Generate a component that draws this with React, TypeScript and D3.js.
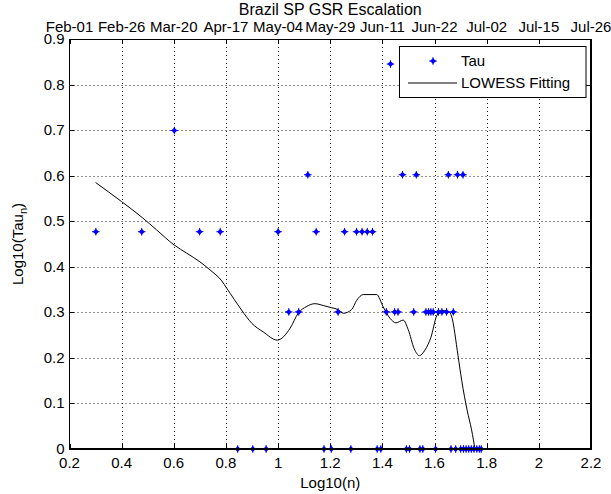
import React from "react";
import * as d3 from "d3";

const W = 611;
const H = 494;

const xTicks = [0.2, 0.4, 0.6, 0.8, 1.0, 1.2, 1.4, 1.6, 1.8, 2.0, 2.2];
const xTickLabels = ["0.2", "0.4", "0.6", "0.8", "1", "1.2", "1.4", "1.6", "1.8", "2", "2.2"];
const topTickLabels = ["Feb-01", "Feb-26", "Mar-20", "Apr-17", "May-04", "May-29", "Jun-11", "Jun-22", "Jul-02", "Jul-15", "Jul-26"];
const yTicks = [0, 0.1, 0.2, 0.3, 0.4, 0.5, 0.6, 0.7, 0.8, 0.9];
const yTickLabels = ["0", "0.1", "0.2", "0.3", "0.4", "0.5", "0.6", "0.7", "0.8", "0.9"];

const tauX = [
  0.301, 0.477, 0.602, 0.699, 0.778, 0.845, 0.903, 0.954, 1.0, 1.041,
  1.079, 1.114, 1.146, 1.176, 1.204, 1.23, 1.255, 1.279, 1.301, 1.322,
  1.342, 1.362, 1.38, 1.394, 1.415, 1.431, 1.447, 1.46, 1.477, 1.492,
  1.504, 1.52, 1.53, 1.544, 1.555, 1.567, 1.577, 1.586, 1.595, 1.604,
  1.615, 1.628, 1.646, 1.653, 1.663, 1.672, 1.681, 1.688, 1.7, 1.709,
  1.711, 1.721, 1.731, 1.741, 1.751, 1.762, 1.772, 1.779,
];
const tauY = [
  0.477, 0.477, 0.699, 0.477, 0.477, 0, 0, 0, 0.477, 0.301,
  0.301, 0.602, 0.477, 0, 0, 0.301, 0.477, 0, 0.477, 0.477,
  0.477, 0.477, 0, 0, 0.301, 0.845, 0.301, 0.301, 0.602, 0,
  0, 0.301, 0.602, 0, 0, 0.301, 0.301, 0.301, 0.301, 0,
  0.301, 0.301, 0.301, 0.602, 0, 0.301, 0, 0.602, 0, 0.602,
  0, 0, 0, 0, 0, 0, 0, 0,
];

const lowessX = [
  0.3, 0.4, 0.479, 0.534, 0.601, 0.649, 0.7, 0.739, 0.784, 0.803,
  0.86, 0.899, 0.943, 0.997, 1.046, 1.077, 1.11, 1.141, 1.173, 1.206,
  1.23, 1.25, 1.282, 1.301, 1.327, 1.378, 1.403, 1.429, 1.452, 1.48,
  1.499, 1.522, 1.542, 1.563, 1.586, 1.608, 1.627, 1.653, 1.666, 1.69,
  1.704, 1.725, 1.742, 1.755,
];
const lowessY = [
  0.585, 0.543, 0.508, 0.481, 0.448, 0.43, 0.411, 0.393, 0.369, 0.353,
  0.305, 0.276, 0.257, 0.239, 0.265, 0.298, 0.313, 0.319, 0.315, 0.31,
  0.306, 0.298, 0.306, 0.326, 0.339, 0.339, 0.312, 0.287, 0.277, 0.283,
  0.262, 0.22, 0.205, 0.217, 0.245, 0.292, 0.304, 0.302, 0.29, 0.205,
  0.151, 0.085, 0.042, 0.0,
];

const FONT = "'Liberation Sans', Arial, Helvetica, sans-serif";

function Marker({ cx, cy }: { cx: number; cy: number }) {
  return (
    <g>
      <path d={`M${cx - 3},${cy}L${cx},${cy - 3}L${cx + 3},${cy}L${cx},${cy + 3}Z`} fill="#0000ff" />
      <path d={`M${cx - 3.8},${cy}H${cx + 3.8}M${cx},${cy - 3.8}V${cy + 3.8}`} stroke="#0000ff" strokeWidth={1} />
    </g>
  );
}

export default function App() {
  const L = 69.5, R = 591, T = 39, B = 449;
  const x = d3.scaleLinear().domain([0.2, 2.2]).range([L, R]);
  const y = d3.scaleLinear().domain([0, 0.9]).range([B, T]);
  const lineData = lowessX.map((v, i) => [v, lowessY[i]] as [number, number]);
  const line = d3
    .line<[number, number]>()
    .x((d) => x(d[0]))
    .y((d) => y(d[1]))
    .curve(d3.curveMonotoneX);
  const tick = 5;
  const fs = 15;
  return (
    <svg
      width={W}
      height={H}
      style={{ position: "absolute", left: 0, top: 0, background: "#fff" }}
      fontFamily={FONT}
    >
      <rect x={0} y={0} width={W} height={H} fill="#fff" />
      {/* grid */}
      <g stroke="#222" strokeWidth={1} strokeDasharray="1,3">
        {xTicks.slice(1, -1).map((t) => (
          <line key={"gx" + t} x1={Math.round(x(t)) + 0.5} x2={Math.round(x(t)) + 0.5} y1={T} y2={B} />
        ))}
        {yTicks.slice(1, -1).map((t) => (
          <line key={"gy" + t} x1={L} x2={R} y1={Math.round(y(t)) + 0.5} y2={Math.round(y(t)) + 0.5} />
        ))}
      </g>
      {/* ticks */}
      <g stroke="#000" strokeWidth={1}>
        {xTicks.map((t) => {
          const px = Math.round(x(t)) + 0.5;
          return (
            <g key={"tx" + t}>
              <line x1={px} x2={px} y1={B} y2={B - tick} />
              <line x1={px} x2={px} y1={T} y2={T + tick} />
            </g>
          );
        })}
        {yTicks.map((t) => {
          const py = Math.round(y(t)) + 0.5;
          return (
            <g key={"ty" + t}>
              <line x1={L} x2={L + tick} y1={py} y2={py} />
              <line x1={R} x2={R - tick} y1={py} y2={py} />
            </g>
          );
        })}
      </g>
      {/* lowess */}
      <path d={line(lineData) || ""} fill="none" stroke="#000" strokeWidth={1} />
      {/* points */}
      {tauX.map((v, i) => (
        <Marker key={"p" + i} cx={x(v)} cy={y(tauY[i])} />
      ))}
      {/* axes box */}
      <g stroke="#000" fill="none">
        <line x1={L} x2={R} y1={T + 0.5} y2={T + 0.5} strokeWidth={1} />
        <line x1={L} x2={L} y1={T} y2={B} strokeWidth={1} />
        <line x1={L - 0.5} x2={R + 1} y1={B} y2={B} strokeWidth={2} />
        <line x1={R} x2={R} y1={T} y2={B + 1} strokeWidth={2} />
      </g>
      {/* tick labels */}
      <g fontSize={fs} fill="#000">
        {xTicks.map((t, i) => (
          <text key={"lx" + t} x={x(t)} y={B + 19} textAnchor="middle">
            {xTickLabels[i]}
          </text>
        ))}
        {xTicks.map((t, i) => (
          <text key={"lt" + t} x={x(t)} y={T - 7} textAnchor="middle">
            {topTickLabels[i]}
          </text>
        ))}
        {yTicks.map((t, i) => (
          <text key={"ly" + t} x={L - 5} y={y(t) + 5} textAnchor="end">
            {yTickLabels[i]}
          </text>
        ))}
      </g>
      {/* title */}
      <text x={(L + R) / 2} y={14.5} textAnchor="middle" fontSize={16}>
        Brazil SP GSR Escalation
      </text>
      {/* axis labels */}
      <text x={(L + R) / 2} y={B + 39} textAnchor="middle" fontSize={fs}>
        Log10(n)
      </text>
      <text transform={`translate(23,${(T + B) / 2}) rotate(-90)`} textAnchor="middle" fontSize={fs}>
        Log10(Tau
        <tspan fontSize={11} dy={4}>n</tspan>
        <tspan dy={-4}>)</tspan>
      </text>
      {/* legend */}
      <g>
        <rect x={399.5} y={46.5} width={186.5} height={51} fill="#fff" stroke="#000" strokeWidth={1} />
        <Marker cx={433} cy={61} />
        <text x={461} y={66} fontSize={fs}>Tau</text>
        <line x1={408} x2={457} y1={83} y2={83} stroke="#000" strokeWidth={1} />
        <text x={461} y={88} fontSize={fs}>LOWESS Fitting</text>
      </g>
    </svg>
  );
}
